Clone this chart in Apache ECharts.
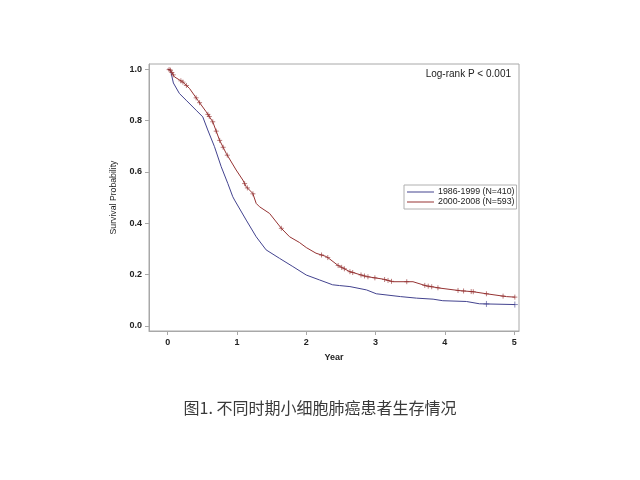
<!DOCTYPE html>
<html><head><meta charset="utf-8">
<script src="https://cdn.jsdelivr.net/npm/echarts@6/dist/echarts.min.js"></script>
<style>html,body{margin:0;padding:0;background:#fff}#c{width:640px;height:480px}</style>
</head><body><div id="c"></div>
<script>
var seriesNames = ['1986-1999 (N=410)', '2000-2008 (N=593)'];
var xTicks = [0, 1, 2, 3, 4, 5];
var yTicks = [0, 0.2, 0.4, 0.6, 0.8, 1.0];

var blueTime = [0, 0.04, 0.082, 0.169, 0.266, 0.41, 0.506, 0.578, 0.675, 0.772, 0.867, 0.939, 0.965, 1.133, 1.277, 1.42, 1.614, 1.806, 2.0, 2.19, 2.38, 2.48, 2.63, 2.87, 3.01, 3.36, 3.59, 3.83, 3.97, 4.31, 4.50, 5.01];
var blueSurv = [1, 0.996, 0.946, 0.905, 0.879, 0.84, 0.814, 0.763, 0.698, 0.62, 0.555, 0.503, 0.49, 0.412, 0.347, 0.296, 0.263, 0.231, 0.198, 0.179, 0.16, 0.157, 0.153, 0.14, 0.125, 0.114, 0.108, 0.104, 0.098, 0.095, 0.086, 0.083];

var redTime = [0, 0.04, 0.097, 0.217, 0.314, 0.434, 0.555, 0.65, 0.747, 0.844, 0.988, 1.084, 1.133, 1.228, 1.277, 1.325, 1.47, 1.64, 1.759, 1.9, 2.0, 2.14, 2.29, 2.34, 2.46, 2.63, 2.87, 3.11, 3.25, 3.54, 3.73, 3.93, 4.22, 4.41, 4.60, 4.89, 5.01];
var redSurv = [1, 0.996, 0.97, 0.95, 0.925, 0.879, 0.834, 0.795, 0.724, 0.672, 0.607, 0.568, 0.542, 0.516, 0.477, 0.464, 0.438, 0.38, 0.347, 0.325, 0.305, 0.283, 0.27, 0.26, 0.235, 0.211, 0.192, 0.182, 0.172, 0.172, 0.156, 0.147, 0.137, 0.133, 0.125, 0.114, 0.112];

var redCensor = [0.02, 0.04, 0.06, 0.08, 0.19, 0.22, 0.27, 0.41, 0.46, 0.58, 0.60, 0.65, 0.70, 0.75, 0.80, 0.86, 1.11, 1.15, 1.23, 1.64, 2.22, 2.31, 2.46, 2.51, 2.55, 2.63, 2.67, 2.79, 2.84, 2.89, 2.99, 3.13, 3.18, 3.23, 3.45, 3.71, 3.76, 3.81, 3.90, 4.19, 4.27, 4.38, 4.41, 4.60, 4.84, 5.01];
var blueCensor = [4.60, 5.01];

var blueColor = '#43438f';
var redColor = '#963333';
var font = 'Liberation Sans, Arial, sans-serif';

function pairs(t, s) { return t.map(function (v, i) { return [v, s[i]]; }); }
function lookup(t, s, x) {
  for (var i = 1; i < t.length; i++) {
    if (x <= t[i]) { var f = (x - t[i - 1]) / (t[i] - t[i - 1]); return s[i - 1] + f * (s[i] - s[i - 1]); }
  }
  return s[s.length - 1];
}
function censorPts(c, t, s) { return c.map(function (x) { return [x, lookup(t, s, x)]; }); }

var plus = 'path://M5,0L5,10M0,5L10,5';
var chart = echarts.init(document.getElementById('c'), null, { renderer: 'canvas' });
chart.setOption({
  animation: false,
  backgroundColor: '#fff',
  title: {
    text: '图1. 不同时期小细胞肺癌患者生存情况',
    left: 'center', top: 395,
    textStyle: { fontFamily: 'Noto Sans CJK SC', fontSize: 16, fontWeight: 'normal', color: '#3a3a3a' }
  },
  grid: { left: 149, top: 64, width: 370, height: 267, show: true, borderColor: '#a8a8a8', borderWidth: 1, backgroundColor: '#fff' },
  xAxis: {
    type: 'value', min: -0.27, max: 5.07,
    name: 'Year', nameLocation: 'middle', nameGap: 22,
    nameTextStyle: { fontFamily: font, fontSize: 9, fontWeight: 'bold', color: '#222' },
    axisLine: { show: true, onZero: false, lineStyle: { color: '#a8a8a8' } },
    axisTick: { show: true, length: 4, lineStyle: { color: '#a8a8a8' }, customValues: xTicks },
    axisLabel: { customValues: xTicks, margin: 7, fontFamily: font, fontSize: 9, fontWeight: 'bold', color: '#222', formatter: function (v) { return String(Math.round(v)); } },
    splitLine: { show: false }
  },
  yAxis: {
    type: 'value', min: -0.02, max: 1.02,
    name: 'Survival Probability', nameLocation: 'middle', nameGap: 27, nameRotate: 90,
    nameTextStyle: { fontFamily: font, fontSize: 8.7, color: '#222' },
    axisLine: { show: true, onZero: false, lineStyle: { color: '#a8a8a8' } },
    axisTick: { show: true, length: 4, lineStyle: { color: '#a8a8a8' }, customValues: yTicks },
    axisLabel: { customValues: yTicks, margin: 7, fontFamily: font, fontSize: 9, fontWeight: 'bold', color: '#222', formatter: function (v) { return v.toFixed(1); } },
    splitLine: { show: false }
  },
  legend: {
    data: seriesNames, orient: 'vertical', left: 404, top: 185,
    backgroundColor: '#fff', borderColor: '#b0b0b0', borderWidth: 1, padding: [2, 2, 2, 3],
    itemWidth: 27, itemHeight: 1, itemGap: 0, icon: 'rect',
    textStyle: { fontFamily: font, fontSize: 8.8, color: '#222', padding: [0, 0, 0, -1], lineHeight: 10 }
  },
  graphic: [{
    type: 'text', right: 129, top: 69,
    style: { text: 'Log-rank P < 0.001', font: '10px ' + font, fill: '#222' }
  }],
  series: [
    { name: seriesNames[0], type: 'line', data: pairs(blueTime, blueSurv), showSymbol: false, color: blueColor, lineStyle: { width: 1, color: blueColor }, z: 3 },
    { name: seriesNames[1], type: 'line', data: pairs(redTime, redSurv), showSymbol: false, color: redColor, lineStyle: { width: 1, color: redColor }, z: 3 },
    { name: 'c1', type: 'scatter', data: censorPts(blueCensor, blueTime, blueSurv), symbol: plus, symbolSize: 6, itemStyle: { color: 'transparent', borderColor: blueColor, borderWidth: 0.8 }, z: 4 },
    { name: 'c2', type: 'scatter', data: censorPts(redCensor, redTime, redSurv), symbol: plus, symbolSize: 5, itemStyle: { color: 'transparent', borderColor: redColor, borderWidth: 0.8 }, z: 4 }
  ]
});
</script></body></html>
